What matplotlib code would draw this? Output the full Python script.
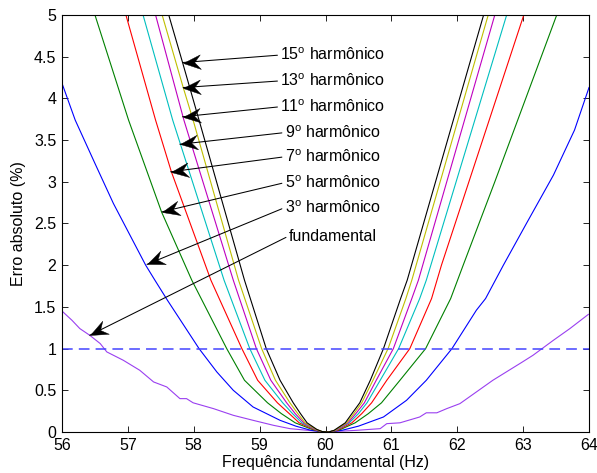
import numpy as np
import matplotlib
matplotlib.use('Agg')
import matplotlib.pyplot as plt
from matplotlib.ticker import FormatStrFormatter, MultipleLocator
from matplotlib.markers import MarkerStyle
from matplotlib.path import Path
from matplotlib.transforms import Affine2D
from matplotlib.text import Text

plt.rcParams['font.family'] = ['Liberation Sans', 'DejaVu Sans']
plt.rcParams['font.size'] = 11.5
plt.rcParams['mathtext.fontset'] = 'custom'
plt.rcParams['mathtext.rm'] = 'Liberation Sans'

# curvas (frequencia em Hz, erro em %)
fund_x = [56.00, 56.15, 56.27, 56.42, 56.58, 56.68, 56.93, 57.18, 57.39, 57.59, 57.79, 57.89, 57.99,
          58.30, 58.60, 58.90, 59.21, 59.46, 60.00, 60.47, 60.83, 60.93, 61.13, 61.43, 61.53, 61.69,
          61.84, 62.04, 62.29, 62.54, 62.99, 63.15, 63.46, 63.71, 63.99]
fund_y = [1.45, 1.34, 1.24, 1.16, 1.06, 0.96, 0.86, 0.74, 0.60, 0.54, 0.40, 0.40, 0.35,
          0.28, 0.20, 0.14, 0.08, 0.04, 0.00, 0.02, 0.04, 0.10, 0.11, 0.18, 0.23, 0.23,
          0.28, 0.34, 0.48, 0.62, 0.84, 0.92, 1.10, 1.24, 1.41]

h3_x = [56.00, 56.20, 56.50, 56.78, 57.27, 57.41, 57.60, 58.08, 58.35, 58.60, 58.90, 59.31, 59.55,
        59.78, 60.00, 60.25, 60.50, 60.88, 61.23, 61.53, 61.92, 62.29, 62.43, 62.70, 63.05, 63.46,
        63.78, 64.00]
h3_y = [4.18, 3.74, 3.22, 2.74, 2.00, 1.82, 1.58, 1.00, 0.72, 0.50, 0.30, 0.14, 0.07,
        0.02, 0.00, 0.02, 0.07, 0.18, 0.38, 0.62, 1.00, 1.46, 1.60, 2.00, 2.50, 3.08,
        3.62, 4.13]

h5_x = [56.50, 57.01, 57.51, 57.97, 58.50, 58.77, 59.12, 59.33, 59.54, 59.80, 59.92, 60.05,
        60.20, 60.45, 60.65, 60.85, 61.13, 61.52, 61.90, 62.09, 62.57, 63.51]
h5_y = [5.00, 3.74, 2.64, 1.82, 1.00, 0.62, 0.35, 0.22, 0.11, 0.03, 0.005, 0.00,
        0.02, 0.11, 0.22, 0.35, 0.62, 1.00, 1.60, 2.00, 3.00, 5.00]

h7_x = [56.97, 57.42, 57.66, 58.26, 58.73, 58.97, 59.27, 59.45, 59.60, 59.82, 59.93, 60.05,
        60.18, 60.40, 60.55, 60.70, 60.93, 61.28, 61.61, 61.76, 63.01]
h7_y = [5.00, 3.74, 3.12, 1.82, 1.00, 0.62, 0.35, 0.22, 0.11, 0.03, 0.005, 0.00,
        0.02, 0.11, 0.22, 0.35, 0.62, 1.00, 1.60, 2.00, 5.00]

h9_x = [57.23, 57.68, 58.46, 58.85, 59.08, 59.35, 59.50, 59.64, 59.84, 59.94, 60.05,
        60.16, 60.36, 60.50, 60.63, 60.83, 61.11, 61.43, 61.53, 62.75]
h9_y = [5.00, 3.74, 1.82, 1.00, 0.62, 0.35, 0.22, 0.11, 0.03, 0.005, 0.00,
        0.02, 0.11, 0.22, 0.35, 0.62, 1.00, 1.60, 1.82, 5.00]

h11_x = [57.42, 57.85, 58.60, 58.95, 59.17, 59.41, 59.54, 59.67, 59.85, 59.94, 60.05,
         60.15, 60.34, 60.46, 60.59, 60.77, 61.03, 61.31, 61.41, 62.57]
h11_y = [5.00, 3.74, 1.82, 1.00, 0.62, 0.35, 0.22, 0.11, 0.03, 0.005, 0.00,
         0.02, 0.11, 0.22, 0.35, 0.62, 1.00, 1.60, 1.82, 5.00]

h13_x = [57.52, 57.84, 57.99, 58.68, 59.03, 59.24, 59.46, 59.58, 59.69, 59.86, 59.95, 60.05,
         60.14, 60.32, 60.43, 60.55, 60.72, 60.95, 61.22, 61.31, 62.47]
h13_y = [5.00, 4.13, 3.74, 1.82, 1.00, 0.62, 0.35, 0.22, 0.11, 0.03, 0.005, 0.00,
         0.02, 0.11, 0.22, 0.35, 0.62, 1.00, 1.60, 1.82, 5.00]

h15_x = [57.62, 57.83, 58.08, 58.77, 59.10, 59.31, 59.51, 59.62, 59.72, 59.87, 59.95, 60.05,
         60.13, 60.30, 60.40, 60.52, 60.68, 60.88, 61.14, 61.24, 62.40]
h15_y = [5.00, 4.43, 3.74, 1.82, 1.00, 0.62, 0.35, 0.22, 0.11, 0.03, 0.005, 0.00,
         0.02, 0.11, 0.22, 0.35, 0.62, 1.00, 1.60, 1.82, 5.00]

curvas = [(fund_x, fund_y, '#9a3ff0'), (h3_x, h3_y, 'b'), (h5_x, h5_y, '#008000'),
          (h7_x, h7_y, 'r'), (h9_x, h9_y, '#00bfbf'), (h11_x, h11_y, '#bf00bf'),
          (h13_x, h13_y, '#bfbf00'), (h15_x, h15_y, 'k')]

limite = 1.0

# textos das setas
rotulos = ['15$^{\\mathrm{o}}$ harmônico', '13$^{\\mathrm{o}}$ harmônico', '11$^{\\mathrm{o}}$ harmônico',
           '9$^{\\mathrm{o}}$ harmônico', '7$^{\\mathrm{o}}$ harmônico', '5$^{\\mathrm{o}}$ harmônico',
           '3$^{\\mathrm{o}}$ harmônico', 'fundamental']
texto_y = [4.52, 4.21, 3.90, 3.59, 3.30, 2.99, 2.69, 2.35]
ponta_x = [57.83, 57.84, 57.83, 57.79, 57.65, 57.52, 57.29, 56.42]
ponta_y = [4.43, 4.13, 3.78, 3.45, 3.12, 2.64, 2.01, 1.16]
texto_x = 60.11

fig = plt.figure(figsize=(5.97, 4.73), dpi=100)
ax = fig.add_axes([0.1039, 0.0867, 0.8827, 0.8816])

for x, y, c in curvas:
    ax.plot(x, y, color=c, lw=0.8)

ax.axhline(limite, color='#4444ff', lw=1.1, dashes=(7, 4))

ax.set_xlim(56, 64)
ax.set_ylim(0, 5)
ax.xaxis.set_major_locator(MultipleLocator(1))
ax.yaxis.set_major_locator(MultipleLocator(0.5))
ax.yaxis.set_major_formatter(FormatStrFormatter('%g'))
ax.tick_params(direction='in', length=4, width=0.6, top=True, right=True, pad=4)
for s in ax.spines.values():
    s.set_linewidth(0.8)
ax.set_xlabel('Frequência fundamental (Hz)', labelpad=2)
ax.set_ylabel('Erro absoluto (%)', labelpad=6)

textos = []
for txt, ty, px, py in zip(rotulos, texto_y, ponta_x, ponta_y):
    t = ax.annotate(txt, xy=(px, py), xytext=(texto_x, ty), ha='center', va='center',
                    arrowprops=dict(arrowstyle='-', color='k', lw=0.75,
                                    shrinkA=0, shrinkB=0, relpos=(0, 0.5)))
    textos.append(t)

# ponta de seta com entalhe (estilo vback2)
fig.canvas.draw()
r = fig.canvas.get_renderer()
cabeca = Path([(0, 0), (-1, 0.42), (-0.65, 0), (-1, -0.42), (0, 0)],
              [Path.MOVETO, Path.LINETO, Path.LINETO, Path.LINETO, Path.CLOSEPOLY])
for t, px, py in zip(textos, ponta_x, ponta_y):
    bb = Text.get_window_extent(t, r)
    cauda = np.array([bb.x0, (bb.y0 + bb.y1) / 2])
    ponta = ax.transData.transform((px, py))
    ang = np.degrees(np.arctan2(ponta[1] - cauda[1], ponta[0] - cauda[0]))
    m = MarkerStyle(cabeca, transform=Affine2D().rotate_deg(ang))
    ax.plot(px, py, marker=m, ms=25, color='k', mew=0.3, clip_on=False)

plt.savefig('out.png', dpi=100)
